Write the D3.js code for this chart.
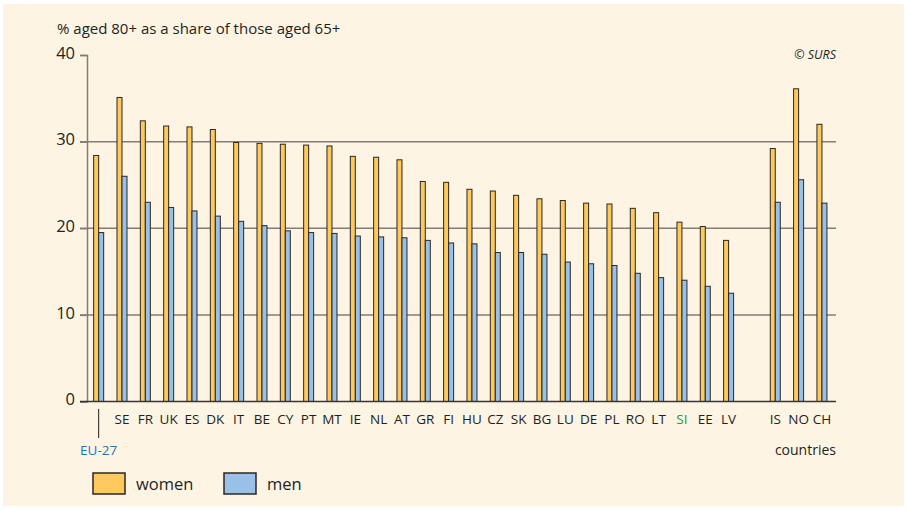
<!DOCTYPE html>
<html>
<head>
<meta charset="utf-8">
<script src="https://cdn.jsdelivr.net/npm/d3@7"></script>
<style>
  body { margin: 0; background: #ffffff; }
  text { font-family: "Open Sans", "Noto Sans", sans-serif; fill: #231f20; }
</style>
</head>
<body>
<div id="chart"></div>
<script>
// data
var countries = ["EU-27", "SE", "FR", "UK", "ES", "DK", "IT", "BE", "CY", "PT", "MT", "IE", "NL", "AT",
  "GR", "FI", "HU", "CZ", "SK", "BG", "LU", "DE", "PL", "RO", "LT", "SI", "EE", "LV", "", "IS", "NO", "CH"];
var women = [28.4, 35.1, 32.4, 31.8, 31.7, 31.4, 29.9, 29.8, 29.7, 29.6, 29.5, 28.3, 28.2, 27.9,
  25.4, 25.3, 24.5, 24.3, 23.8, 23.4, 23.2, 22.9, 22.8, 22.3, 21.8, 20.7, 20.2, 18.6, null, 29.2, 36.1, 32.0];
var men = [19.5, 26.0, 23.0, 22.4, 22.0, 21.4, 20.8, 20.3, 19.7, 19.5, 19.4, 19.1, 19.0, 18.9,
  18.6, 18.3, 18.2, 17.2, 17.2, 17.0, 16.1, 15.9, 15.7, 14.8, 14.3, 14.0, 13.3, 12.5, null, 23.0, 25.6, 22.9];
var yTicks = [0, 10, 20, 30, 40];

var W = 907, H = 510;
var colW = "#fdc95c", colM = "#99c0e6";

var svg = d3.select("#chart").append("svg")
  .attr("width", W).attr("height", H);

// background panel
svg.append("rect")
  .attr("x", 3).attr("y", 4).attr("width", W - 6).attr("height", H - 8)
  .attr("fill", "#fdf4e4");

var x = d3.scaleBand()
  .domain(countries)
  .range([87, 833.6])
  .padding(0);

var y = d3.scaleLinear()
  .domain([0, 40])
  .range([401.5, 55]);

// gridlines
svg.append("g")
  .selectAll("line")
  .data([10, 20, 30])
  .enter()
  .append("line")
  .attr("x1", 80).attr("x2", 836)
  .attr("y1", d => y(d)).attr("y2", d => y(d))
  .attr("stroke", "#857d75")
  .attr("stroke-width", 1.5);

// y axis
var yAxis = svg.append("g")
  .attr("transform", "translate(87,0)")
  .call(d3.axisLeft(y).tickValues(yTicks).tickSize(7).tickPadding(5));
yAxis.select(".domain").attr("stroke", "#857d75").attr("stroke-width", 1.5);
yAxis.selectAll(".tick line").attr("stroke", "#857d75").attr("stroke-width", 1.5);
yAxis.selectAll(".tick text")
  .style("font-family", "'Open Sans', sans-serif")
  .style("font-size", "16.5px")
  .attr("fill", "#231f20")
  .attr("dy", "0.2em");

var bw = 5;
var idx = d3.range(countries.length).filter(i => women[i] !== null);

// women bars
svg.append("g")
  .selectAll("rect")
  .data(idx)
  .enter()
  .append("rect")
  .attr("x", i => x(countries[i]) + x.bandwidth() / 2 - bw)
  .attr("y", i => y(women[i]))
  .attr("width", bw)
  .attr("height", i => y(0) - y(women[i]))
  .attr("fill", colW)
  .attr("stroke", "#2b2724")
  .attr("stroke-width", 1);

// men bars
svg.append("g")
  .selectAll("rect")
  .data(idx)
  .enter()
  .append("rect")
  .attr("x", i => x(countries[i]) + x.bandwidth() / 2)
  .attr("y", i => y(men[i]))
  .attr("width", bw)
  .attr("height", i => y(0) - y(men[i]))
  .attr("fill", colM)
  .attr("stroke", "#2b2724")
  .attr("stroke-width", 1);

// baseline
svg.append("line")
  .attr("x1", 80).attr("x2", 836)
  .attr("y1", y(0)).attr("y2", y(0))
  .attr("stroke", "#3a3531")
  .attr("stroke-width", 1.5);

// x labels
svg.append("g")
  .selectAll("text")
  .data(countries.filter(c => c !== "" && c !== "EU-27"))
  .enter()
  .append("text")
  .attr("x", d => x(d) + x.bandwidth() / 2)
  .attr("y", 424)
  .attr("text-anchor", "middle")
  .style("font-size", "13.5px")
  .style("fill", d => d === "SI" ? "#1f9a48" : "#231f20")
  .text(d => d);

// EU-27 marker
var cEU = x("EU-27") + x.bandwidth() / 2;
svg.append("line")
  .attr("x1", cEU).attr("x2", cEU)
  .attr("y1", 409).attr("y2", 438)
  .attr("stroke", "#231f20")
  .attr("stroke-width", 1);
svg.append("text")
  .attr("x", cEU)
  .attr("y", 455)
  .attr("text-anchor", "middle")
  .style("font-size", "13.5px")
  .style("fill", "#1a75bb")
  .text("EU-27");

// axis titles
svg.append("text")
  .attr("x", 57).attr("y", 34)
  .style("font-size", "15px")
  .text("% aged 80+ as a share of those aged 65+");

svg.append("text")
  .attr("x", 836).attr("y", 455)
  .attr("text-anchor", "end")
  .style("font-size", "14px")
  .text("countries");

svg.append("text")
  .attr("x", 836).attr("y", 59)
  .attr("text-anchor", "end")
  .style("font-size", "12.5px")
  .style("font-style", "italic")
  .text("© SURS");

// legend
var legend = [{name: "women", color: colW, x: 93}, {name: "men", color: colM, x: 224}];
var lg = svg.append("g").selectAll("g")
  .data(legend)
  .enter()
  .append("g");
lg.append("rect")
  .attr("x", d => d.x).attr("y", 473)
  .attr("width", 32).attr("height", 21)
  .attr("fill", d => d.color)
  .attr("stroke", "#2b2724")
  .attr("stroke-width", 1.5);
lg.append("text")
  .attr("x", d => d.x + 43).attr("y", 490)
  .style("font-size", "16.5px")
  .text(d => d.name);
</script>
</body>
</html>
